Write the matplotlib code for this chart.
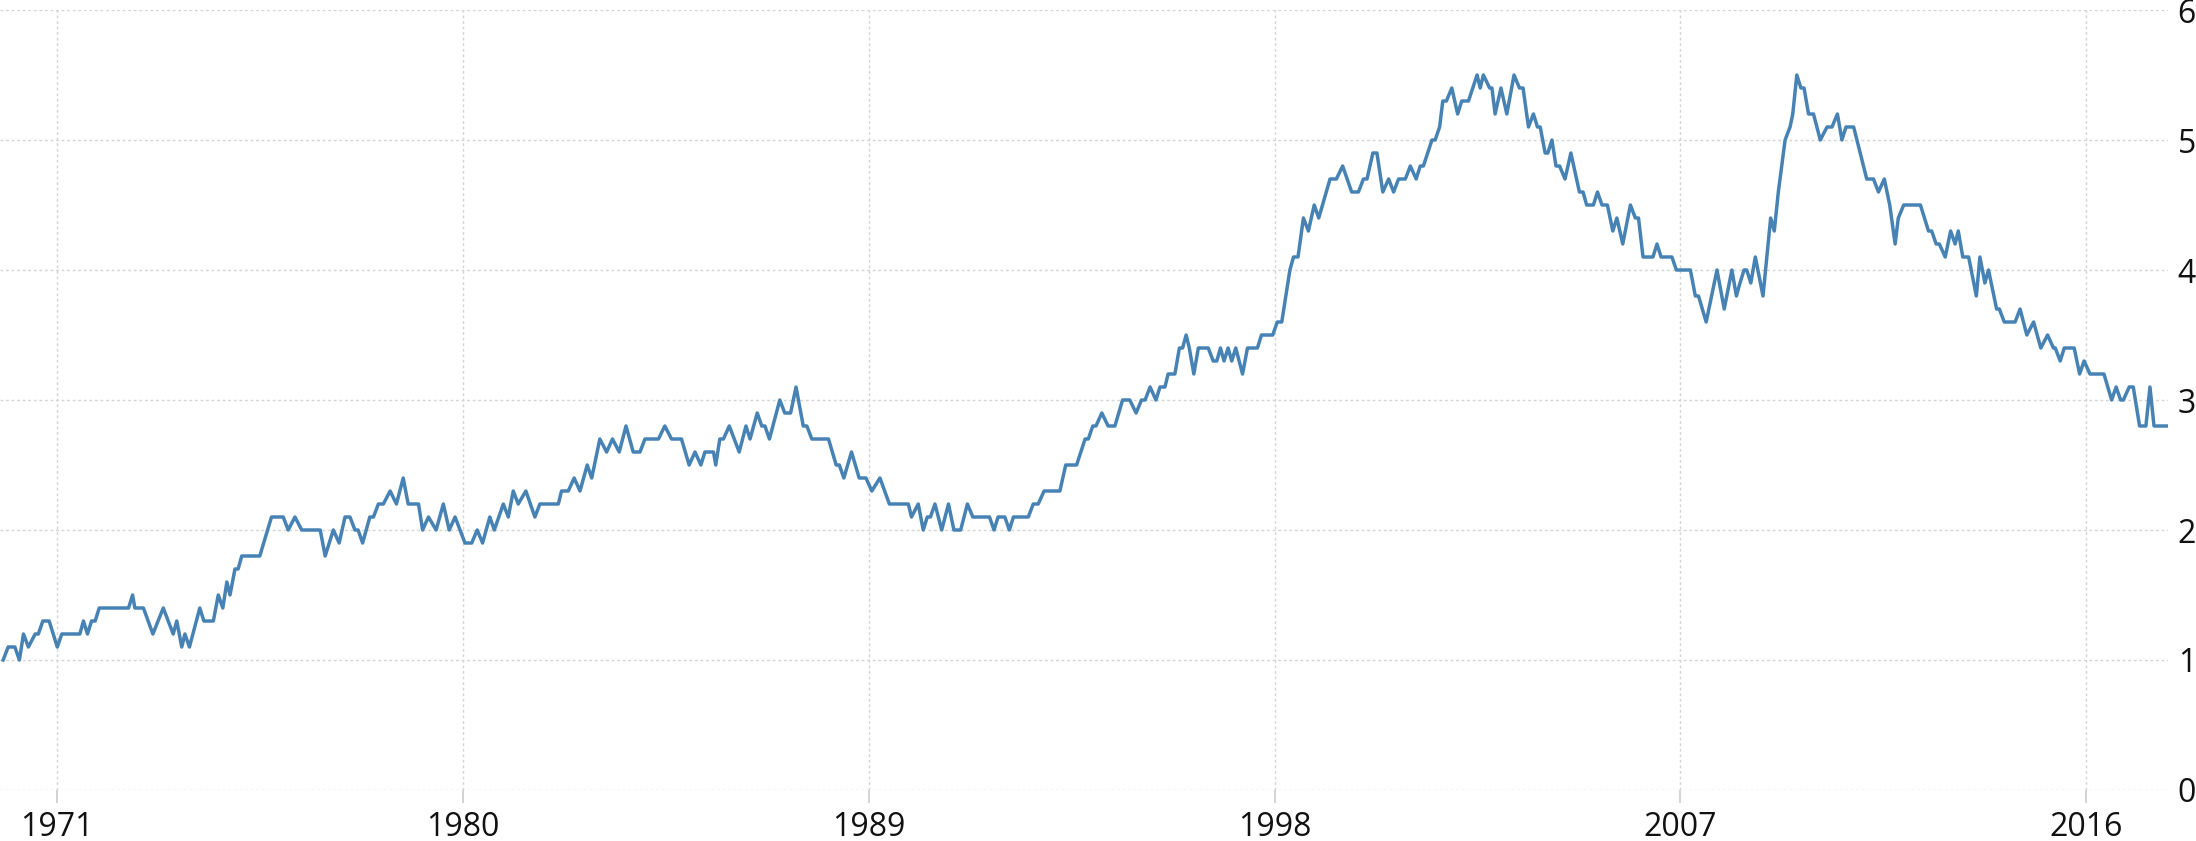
import matplotlib
matplotlib.use("Agg")
import matplotlib.pyplot as plt
import numpy as np

plt.rcParams['font.family'] = ['Open Sans', 'DejaVu Sans']

# unemployment rate (%), turning points of the monthly series, by decade
t70 = [1969.81, 1969.92, 1970.07, 1970.17, 1970.26, 1970.37, 1970.52, 1970.59, 1970.69, 1970.83,
       1971.01, 1971.11, 1971.51, 1971.59, 1971.68, 1971.77, 1971.85, 1971.94, 1972.59, 1972.68,
       1972.73, 1972.92, 1973.13, 1973.36, 1973.58, 1973.66, 1973.77, 1973.84, 1973.94, 1974.17,
       1974.26, 1974.47, 1974.58, 1974.68, 1974.77, 1974.84, 1974.95, 1975.02, 1975.10, 1975.50,
       1975.76, 1976.02, 1976.13, 1976.28, 1976.43, 1976.84, 1976.95, 1977.13, 1977.26, 1977.39,
       1977.50, 1977.61, 1977.68, 1977.78, 1977.94, 1978.02, 1978.13, 1978.24, 1978.39, 1978.53,
       1978.68, 1978.79, 1979.02, 1979.11, 1979.24, 1979.41, 1979.57, 1979.70, 1979.83]
v70 = [1.0, 1.1, 1.1, 1.0, 1.2, 1.1, 1.2, 1.2, 1.3, 1.3,
       1.1, 1.2, 1.2, 1.3, 1.2, 1.3, 1.3, 1.4, 1.4, 1.5,
       1.4, 1.4, 1.2, 1.4, 1.2, 1.3, 1.1, 1.2, 1.1, 1.4,
       1.3, 1.3, 1.5, 1.4, 1.6, 1.5, 1.7, 1.7, 1.8, 1.8,
       2.1, 2.1, 2.0, 2.1, 2.0, 2.0, 1.8, 2.0, 1.9, 2.1,
       2.1, 2.0, 2.0, 1.9, 2.1, 2.1, 2.2, 2.2, 2.3, 2.2,
       2.4, 2.2, 2.2, 2.0, 2.1, 2.0, 2.2, 2.0, 2.1]

t80 = [1980.05, 1980.20, 1980.32, 1980.44, 1980.60, 1980.70, 1980.90, 1981.01, 1981.12, 1981.23,
       1981.40, 1981.60, 1981.71, 1982.12, 1982.19, 1982.34, 1982.47, 1982.60, 1982.76, 1982.86,
       1983.04, 1983.19, 1983.32, 1983.47, 1983.62, 1983.78, 1983.93, 1984.04, 1984.34, 1984.48,
       1984.63, 1984.85, 1985.02, 1985.15, 1985.28, 1985.37, 1985.56, 1985.61, 1985.70, 1985.78,
       1985.91, 1986.13, 1986.28, 1986.37, 1986.53, 1986.63, 1986.70, 1986.80, 1987.03, 1987.14,
       1987.27, 1987.39, 1987.55, 1987.63, 1987.74, 1988.11, 1988.28, 1988.35, 1988.45, 1988.62,
       1988.79, 1988.94, 1989.07, 1989.25, 1989.46, 1989.88, 1989.95]
v80 = [1.9, 1.9, 2.0, 1.9, 2.1, 2.0, 2.2, 2.1, 2.3, 2.2,
       2.3, 2.1, 2.2, 2.2, 2.3, 2.3, 2.4, 2.3, 2.5, 2.4,
       2.7, 2.6, 2.7, 2.6, 2.8, 2.6, 2.6, 2.7, 2.7, 2.8,
       2.7, 2.7, 2.5, 2.6, 2.5, 2.6, 2.6, 2.5, 2.7, 2.7,
       2.8, 2.6, 2.8, 2.7, 2.9, 2.8, 2.8, 2.7, 3.0, 2.9,
       2.9, 3.1, 2.8, 2.8, 2.7, 2.7, 2.5, 2.5, 2.4, 2.6,
       2.4, 2.4, 2.3, 2.4, 2.2, 2.2, 2.1]

t90 = [1990.10, 1990.21, 1990.30, 1990.37, 1990.47, 1990.62, 1990.77, 1990.89, 1991.04, 1991.19,
       1991.31, 1991.68, 1991.78, 1991.87, 1992.02, 1992.12, 1992.21, 1992.54, 1992.65, 1992.76,
       1992.89, 1993.24, 1993.37, 1993.61, 1993.80, 1993.87, 1993.97, 1994.04, 1994.17, 1994.31,
       1994.46, 1994.63, 1994.79, 1994.93, 1995.05, 1995.13, 1995.24, 1995.37, 1995.46, 1995.57,
       1995.64, 1995.79, 1995.89, 1995.96, 1996.04, 1996.11, 1996.21, 1996.31, 1996.53, 1996.64,
       1996.72, 1996.80, 1996.88, 1996.97, 1997.05, 1997.14, 1997.29, 1997.40, 1997.62, 1997.71,
       1997.96, 1998.06, 1998.16, 1998.34, 1998.42, 1998.52, 1998.64, 1998.75, 1998.88, 1998.98,
       1999.23, 1999.37, 1999.51, 1999.71, 1999.86, 1999.97]
v90 = [2.2, 2.0, 2.1, 2.1, 2.2, 2.0, 2.2, 2.0, 2.0, 2.2,
       2.1, 2.1, 2.0, 2.1, 2.1, 2.0, 2.1, 2.1, 2.2, 2.2,
       2.3, 2.3, 2.5, 2.5, 2.7, 2.7, 2.8, 2.8, 2.9, 2.8,
       2.8, 3.0, 3.0, 2.9, 3.0, 3.0, 3.1, 3.0, 3.1, 3.1,
       3.2, 3.2, 3.4, 3.4, 3.5, 3.4, 3.2, 3.4, 3.4, 3.3,
       3.3, 3.4, 3.3, 3.4, 3.3, 3.4, 3.2, 3.4, 3.4, 3.5,
       3.5, 3.6, 3.6, 4.0, 4.1, 4.1, 4.4, 4.3, 4.5, 4.4,
       4.7, 4.7, 4.8, 4.6, 4.6, 4.7]

t00 = [2000.05, 2000.18, 2000.27, 2000.40, 2000.53, 2000.64, 2000.75, 2000.90, 2001.01, 2001.14,
       2001.23, 2001.30, 2001.49, 2001.56, 2001.66, 2001.73, 2001.81, 2001.93, 2002.06, 2002.15,
       2002.30, 2002.49, 2002.56, 2002.63, 2002.77, 2002.82, 2002.89, 2003.02, 2003.15, 2003.31,
       2003.43, 2003.51, 2003.63, 2003.74, 2003.83, 2003.89, 2004.00, 2004.06, 2004.15, 2004.24,
       2004.32, 2004.44, 2004.57, 2004.76, 2004.84, 2004.92, 2005.07, 2005.16, 2005.26, 2005.38,
       2005.50, 2005.59, 2005.72, 2005.89, 2006.00, 2006.07, 2006.17, 2006.39, 2006.48, 2006.57,
       2006.81, 2006.91, 2007.22, 2007.33, 2007.40, 2007.57, 2007.81, 2007.97, 2008.14, 2008.24,
       2008.32, 2008.41, 2008.47, 2008.56, 2008.66, 2008.83, 2009.00, 2009.08, 2009.17, 2009.32,
       2009.43, 2009.49, 2009.58, 2009.67, 2009.74, 2009.84, 2009.95]
v00 = [4.7, 4.9, 4.9, 4.6, 4.7, 4.6, 4.7, 4.7, 4.8, 4.7,
       4.8, 4.8, 5.0, 5.0, 5.1, 5.3, 5.3, 5.4, 5.2, 5.3,
       5.3, 5.5, 5.4, 5.5, 5.4, 5.4, 5.2, 5.4, 5.2, 5.5,
       5.4, 5.4, 5.1, 5.2, 5.1, 5.1, 4.9, 4.9, 5.0, 4.8,
       4.8, 4.7, 4.9, 4.6, 4.6, 4.5, 4.5, 4.6, 4.5, 4.5,
       4.3, 4.4, 4.2, 4.5, 4.4, 4.4, 4.1, 4.1, 4.2, 4.1,
       4.1, 4.0, 4.0, 3.8, 3.8, 3.6, 4.0, 3.7, 4.0, 3.8,
       3.9, 4.0, 4.0, 3.9, 4.1, 3.8, 4.4, 4.3, 4.6, 5.0,
       5.1, 5.2, 5.5, 5.4, 5.4, 5.2, 5.2]

t10 = [2010.10, 2010.25, 2010.36, 2010.48, 2010.58, 2010.67, 2010.84, 2011.13, 2011.28, 2011.39,
       2011.52, 2011.64, 2011.76, 2011.83, 2011.95, 2012.32, 2012.50, 2012.57, 2012.67, 2012.74,
       2012.87, 2012.99, 2013.09, 2013.16, 2013.26, 2013.39, 2013.56, 2013.64, 2013.75, 2013.83,
       2014.01, 2014.07, 2014.18, 2014.42, 2014.53, 2014.68, 2014.83, 2014.99, 2015.14, 2015.27,
       2015.31, 2015.42, 2015.51, 2015.73, 2015.85, 2015.95, 2016.08, 2016.39, 2016.56, 2016.66,
       2016.76, 2016.82, 2016.95, 2017.04, 2017.18, 2017.32, 2017.41, 2017.50, 2017.60, 2017.78]
v10 = [5.0, 5.1, 5.1, 5.2, 5.0, 5.1, 5.1, 4.7, 4.7, 4.6,
       4.7, 4.5, 4.2, 4.4, 4.5, 4.5, 4.3, 4.3, 4.2, 4.2,
       4.1, 4.3, 4.2, 4.3, 4.1, 4.1, 3.8, 4.1, 3.9, 4.0,
       3.7, 3.7, 3.6, 3.6, 3.7, 3.5, 3.6, 3.4, 3.5, 3.4,
       3.4, 3.3, 3.4, 3.4, 3.2, 3.3, 3.2, 3.2, 3.0, 3.1,
       3.0, 3.0, 3.1, 3.1, 2.8, 2.8, 3.1, 2.8, 2.8, 2.8]

years = [1971, 1980, 1989, 1998, 2007, 2016]
levels = [0, 1, 2, 3, 4, 5, 6]

t = np.array(t70 + t80 + t90 + t00 + t10)
v = np.array(v70 + v80 + v90 + v00 + v10)

fig = plt.figure(figsize=(21.96, 8.41), dpi=100)
ax = fig.add_axes([0, 1 - 790 / 841, 2168 / 2196, 780 / 841])
ax.plot(t, v, color='#4682b4', lw=2.5, solid_joinstyle='round')

ax.set_xlim(1969.74, 2017.81)
ax.set_ylim(0, 6)
ax.set_xticks(years)
ax.set_xticklabels([str(y) for y in years])
ax.set_yticks(levels)
ax.yaxis.tick_right()
ax.grid(color='#d4d4d4', linestyle=(0, (2, 2)), lw=1)
for s in ax.spines.values():
    s.set_visible(False)
ax.tick_params(axis='x', length=9, width=1.2, color='#cccccc', pad=6,
               labelsize=23, labelcolor='#111111')
ax.tick_params(axis='y', length=0, pad=7, labelsize=23, labelcolor='#111111')

fig.savefig('out.png', dpi=100)
